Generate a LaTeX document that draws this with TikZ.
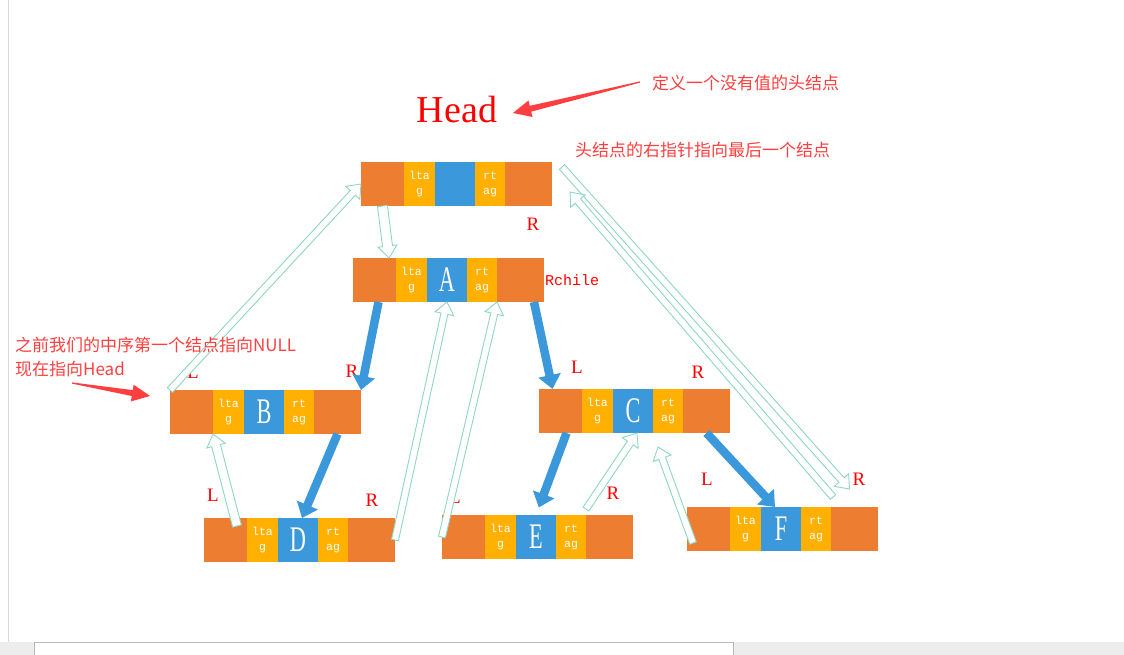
\documentclass[tikz,border=0pt]{standalone}
\usepackage{fontspec}
\setmainfont{Liberation Serif}
\setmonofont{Liberation Mono}
\newfontfamily\cjk{Noto Sans CJK SC}
\usetikzlibrary{calc,positioning,arrows.meta}

\definecolor{barorange}{HTML}{ED7D31}
\definecolor{baryellow}{HTML}{FFB000}
\definecolor{barblue}{HTML}{3A98DB}
\definecolor{notered}{HTML}{FF3F3F}
\definecolor{threadgreen}{HTML}{8FD6C3}

\newcommand\thread[3][4pt]{%
  \path (#2) coordinate (ts) (#3) coordinate (te);
  \coordinate (hb) at ($(te)!12pt!(ts)$);
  \filldraw[thr] ($(ts)!#1!90:(te)$) -- ($(hb)!#1!-90:(ts)$) -- ($(hb)!9.5pt!-90:(ts)$) -- (te)
    -- ($(hb)!9.5pt!90:(ts)$) -- ($(hb)!#1!90:(ts)$) -- ($(ts)!#1!-90:(te)$) -- cycle;}
\newcommand\callout[2]{%
  \coordinate (hb) at ($(#2)!18pt!(#1)$);
  \fill[notered] ($(#1)!0.6pt!90:(#2)$) -- ($(hb)!3pt!-90:(#1)$) -- ($(hb)!8.5pt!-90:(#1)$) -- (#2)
    -- ($(hb)!8.5pt!90:(#1)$) -- ($(hb)!3pt!90:(#1)$) -- ($(#1)!0.6pt!-90:(#2)$) -- cycle;}

\begin{document}
\begin{tikzpicture}[x=1pt, y=-1pt,
  seg/.style={minimum height=44pt, inner sep=0pt, outer sep=0pt},
  lch/.style={seg, fill=barorange, minimum width=43pt},
  rch/.style={seg, fill=barorange, minimum width=47pt},
  tag/.style={seg, fill=baryellow, text=white, align=center, font=\ttfamily\fontsize{11.5}{15}\selectfont},
  ltag/.style={tag, minimum width=31pt},
  rtag/.style={tag, minimum width=30pt},
  dat/.style={seg, fill=barblue, text=white, minimum width=40pt, font=\fontsize{36}{36}\selectfont},
  lbl/.style={text=red, inner sep=0pt, font=\fontsize{19}{19}\selectfont},
  note/.style={text=notered, inner sep=0pt, anchor=west, font=\cjk\fontsize{17}{24}\selectfont},
  kid/.style={draw=barblue, line width=8.5pt, -{Triangle[width=22pt,length=14pt]}},
  thr/.style={draw=threadgreen, fill=white, line width=0.9pt}]
\useasboundingbox (0,0) rectangle (1124,655);
\fill[white] (0,0) rectangle (1124,655);
\draw[black!15, line width=1pt] (8,0) -- (8,642);
\fill[black!7] (0,642) rectangle (1124,655);
\filldraw[fill=white, draw=black!28, line width=1pt] (34,655) -- (34,642.5) -- (733,642.5) -- (733,655);

\foreach \n/\x/\y/\t in {h/455/184/{}, a/447/280/A, b/264/412/B, c/633/411/C, d/298/540/D, e/536/537/E, f/781/529/F}{
  \node[dat] (\n) at (\x,\y) {\scalebox{0.62}[1]{\t}};
  \node[ltag, left=0pt of \n] (\n-lt) {lta\\g};
  \node[lch, left=0pt of \n-lt] (\n-l) {};
  \node[rtag, right=0pt of \n] (\n-rt) {rt\\ag};
  \node[rch, right=0pt of \n-rt] (\n-r) {};
}

\node[text=red, inner sep=0pt, font=\fontsize{38}{38}\selectfont] (head) at (457,110) {Head};
\node[text=red, inner sep=0pt, font=\ttfamily\fontsize{15}{15}\selectfont] (rchile) at (572,280) {Rchile};
\foreach \x/\y/\t [count=\k] in {533/224/R, 193/372/L, 352/371/R, 577/367/L, 698/372/R, 213/495/L, 372/500/R, 455/497/L, 613/493/R, 707/479/L, 859/479/R}
  \node[lbl] (lr\k) at (\x,\y) {\t};

\draw[kid] ([xshift=4pt]a-l.south) -- (b-r.north east);
\draw[kid] ([xshift=-10pt]a-r.south east) -- ([xshift=-8pt]c-l.north);
\draw[kid] (b-r.south) -- ([xshift=4pt]d.north);
\draw[kid, shorten >=8pt] ([xshift=6pt]c-l.south) -- (e.north);
\draw[kid] (c-r.south) -- ([xshift=-6pt]f.north);

\thread[5pt]{h-l.south}{[xshift=-7pt]a-l.north east}
\thread[3.5pt]{b-l.north west}{h-l.west}
\thread[4.5pt]{[xshift=-10pt,yshift=-8pt]d-l.north east}{b-lt.south west}
\thread[3.5pt]{d-r.east}{a.south}
\thread[3.5pt]{e-l.west}{a-rt.south east}
\thread[3.5pt]{[yshift=6pt]e-r.north west}{[xshift=4pt]c.south}
\thread[3.5pt]{[xshift=6pt,yshift=-14pt]f-l.west}{[xshift=5pt,yshift=-14pt]c.south east}
\thread[3.5pt]{[xshift=10pt,yshift=-5pt]h-r.north east}{[xshift=-5pt,yshift=18pt]f-r.north}
\thread[3.5pt]{[xshift=2pt,yshift=10pt]f-r.north west}{[xshift=18pt,yshift=-8pt]h-r.east}

\node[note] (defnote) at (652,83) {定义一个没有值的头结点};
\node[note] (lastnote) at (575,150) {头结点的右指针指向最后一个结点};
\node[note, align=left] (nullnote) at (15,357) {之前我们的中序第一个结点指向NULL\\现在指向Head};

\coordinate (defptr) at (640,82);
\coordinate (headtip) at (513,113);
\coordinate (nullptr) at (72,383);
\coordinate (btip) at (150,396);
\callout{defptr}{headtip}
\callout{nullptr}{btip}
\end{tikzpicture}
\end{document}
